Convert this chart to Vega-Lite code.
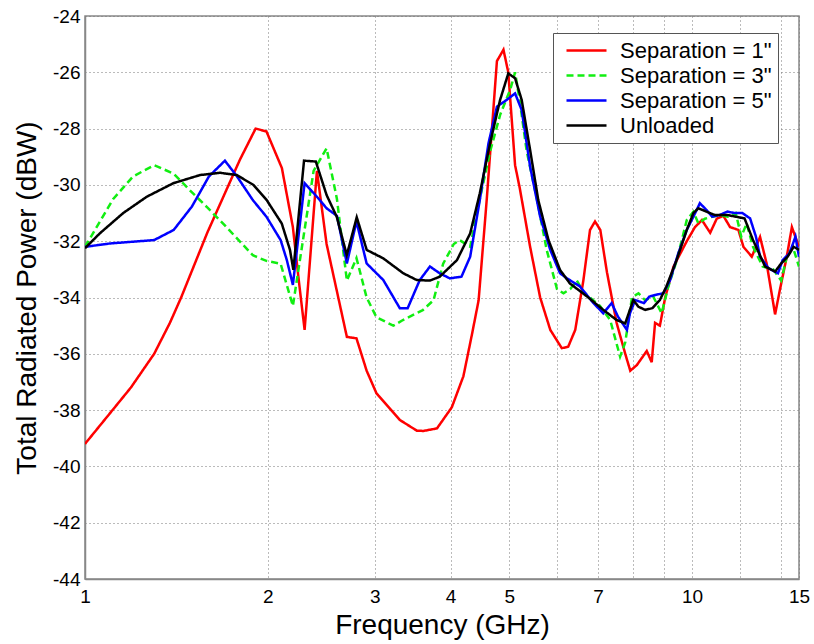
{
  "$schema": "https://vega.github.io/schema/vega-lite/v6.json",
  "width": 714,
  "height": 563,
  "autosize": {"type": "none"},
  "padding": {"left": 85, "top": 16, "right": 15, "bottom": 65},
  "background": "white",
  "config": {
    "font": "Liberation Sans",
    "view": {"stroke": "#888888", "strokeWidth": 1.5},
    "axis": {
      "gridDash": [1, 3],
      "gridColor": "#777777",
      "gridWidth": 1,
      "gridOpacity": 1,
      "domainColor": "#888888",
      "domainWidth": 1.5,
      "ticks": false,
      "labelColor": "black",
      "labelFontSize": 19,
      "labelFont": "Liberation Sans",
      "titleFont": "Liberation Sans",
      "titleFontSize": 28,
      "titleFontWeight": "normal",
      "titleColor": "black"
    },
    "legend": {
      "title": null,
      "orient": "none",
      "legendX": 468,
      "legendY": 17,
      "strokeColor": "#555555",
      "fillColor": "white",
      "padding": 6,
      "symbolOffset": 16,
      "symbolType": "M-2,0H2",
      "symbolSize": 400,
      "symbolStrokeWidth": 2.5,
      "labelFontSize": 22,
      "labelFont": "Liberation Sans",
      "labelColor": "black",
      "labelOffset": 22,
      "rowPadding": 2,
      "labelLimit": 300
    }
  },
  "data": {
    "values": [
      {"s": "Separation = 1\"", "f": 1.0, "v": -39.2},
      {"s": "Separation = 1\"", "f": 1.19, "v": -37.2},
      {"s": "Separation = 1\"", "f": 1.3, "v": -36.0},
      {"s": "Separation = 1\"", "f": 1.38, "v": -34.9},
      {"s": "Separation = 1\"", "f": 1.44, "v": -34.0},
      {"s": "Separation = 1\"", "f": 1.59, "v": -31.7},
      {"s": "Separation = 1\"", "f": 1.8, "v": -29.1},
      {"s": "Separation = 1\"", "f": 1.91, "v": -28.0},
      {"s": "Separation = 1\"", "f": 1.99, "v": -28.1},
      {"s": "Separation = 1\"", "f": 2.11, "v": -29.4},
      {"s": "Separation = 1\"", "f": 2.2, "v": -31.5},
      {"s": "Separation = 1\"", "f": 2.25, "v": -33.4},
      {"s": "Separation = 1\"", "f": 2.3, "v": -35.15},
      {"s": "Separation = 1\"", "f": 2.41, "v": -29.5},
      {"s": "Separation = 1\"", "f": 2.5, "v": -32.1},
      {"s": "Separation = 1\"", "f": 2.7, "v": -35.4},
      {"s": "Separation = 1\"", "f": 2.8, "v": -35.45},
      {"s": "Separation = 1\"", "f": 2.91, "v": -36.6},
      {"s": "Separation = 1\"", "f": 3.02, "v": -37.4},
      {"s": "Separation = 1\"", "f": 3.3, "v": -38.35},
      {"s": "Separation = 1\"", "f": 3.52, "v": -38.73},
      {"s": "Separation = 1\"", "f": 3.61, "v": -38.74},
      {"s": "Separation = 1\"", "f": 3.8, "v": -38.65},
      {"s": "Separation = 1\"", "f": 4.02, "v": -37.9},
      {"s": "Separation = 1\"", "f": 4.2, "v": -36.8},
      {"s": "Separation = 1\"", "f": 4.34, "v": -35.3},
      {"s": "Separation = 1\"", "f": 4.45, "v": -34.1},
      {"s": "Separation = 1\"", "f": 4.59, "v": -30.5},
      {"s": "Separation = 1\"", "f": 4.77, "v": -25.6},
      {"s": "Separation = 1\"", "f": 4.89, "v": -25.2},
      {"s": "Separation = 1\"", "f": 4.98, "v": -26.0},
      {"s": "Separation = 1\"", "f": 5.11, "v": -29.3},
      {"s": "Separation = 1\"", "f": 5.2, "v": -30.1},
      {"s": "Separation = 1\"", "f": 5.41, "v": -32.2},
      {"s": "Separation = 1\"", "f": 5.62, "v": -34.0},
      {"s": "Separation = 1\"", "f": 5.84, "v": -35.15},
      {"s": "Separation = 1\"", "f": 6.1, "v": -35.8},
      {"s": "Separation = 1\"", "f": 6.25, "v": -35.75},
      {"s": "Separation = 1\"", "f": 6.42, "v": -35.15},
      {"s": "Separation = 1\"", "f": 6.62, "v": -33.4},
      {"s": "Separation = 1\"", "f": 6.79, "v": -31.6},
      {"s": "Separation = 1\"", "f": 6.92, "v": -31.3},
      {"s": "Separation = 1\"", "f": 7.06, "v": -31.6},
      {"s": "Separation = 1\"", "f": 7.24, "v": -33.1},
      {"s": "Separation = 1\"", "f": 7.51, "v": -34.9},
      {"s": "Separation = 1\"", "f": 7.76, "v": -36.0},
      {"s": "Separation = 1\"", "f": 7.91, "v": -36.6},
      {"s": "Separation = 1\"", "f": 8.11, "v": -36.4},
      {"s": "Separation = 1\"", "f": 8.42, "v": -35.9},
      {"s": "Separation = 1\"", "f": 8.58, "v": -36.3},
      {"s": "Separation = 1\"", "f": 8.69, "v": -34.9},
      {"s": "Separation = 1\"", "f": 8.85, "v": -35.0},
      {"s": "Separation = 1\"", "f": 9.03, "v": -34.0},
      {"s": "Separation = 1\"", "f": 9.32, "v": -32.9},
      {"s": "Separation = 1\"", "f": 9.8, "v": -32.0},
      {"s": "Separation = 1\"", "f": 10.11, "v": -31.5},
      {"s": "Separation = 1\"", "f": 10.38, "v": -31.25},
      {"s": "Separation = 1\"", "f": 10.71, "v": -31.7},
      {"s": "Separation = 1\"", "f": 10.98, "v": -31.2},
      {"s": "Separation = 1\"", "f": 11.26, "v": -31.1},
      {"s": "Separation = 1\"", "f": 11.55, "v": -31.5},
      {"s": "Separation = 1\"", "f": 11.92, "v": -31.6},
      {"s": "Separation = 1\"", "f": 12.15, "v": -32.2},
      {"s": "Separation = 1\"", "f": 12.54, "v": -32.55},
      {"s": "Separation = 1\"", "f": 12.94, "v": -31.85},
      {"s": "Separation = 1\"", "f": 13.27, "v": -32.8},
      {"s": "Separation = 1\"", "f": 13.7, "v": -34.6},
      {"s": "Separation = 1\"", "f": 13.96, "v": -33.7},
      {"s": "Separation = 1\"", "f": 14.32, "v": -32.55},
      {"s": "Separation = 1\"", "f": 14.6, "v": -31.5},
      {"s": "Separation = 1\"", "f": 15.0, "v": -32.2},

      {"s": "Separation = 3\"", "f": 1.0, "v": -32.2},
      {"s": "Separation = 3\"", "f": 1.113, "v": -30.5},
      {"s": "Separation = 3\"", "f": 1.2, "v": -29.7},
      {"s": "Separation = 3\"", "f": 1.3, "v": -29.3},
      {"s": "Separation = 3\"", "f": 1.4, "v": -29.6},
      {"s": "Separation = 3\"", "f": 1.49, "v": -30.2},
      {"s": "Separation = 3\"", "f": 1.59, "v": -30.8},
      {"s": "Separation = 3\"", "f": 1.71, "v": -31.5},
      {"s": "Separation = 3\"", "f": 1.89, "v": -32.5},
      {"s": "Separation = 3\"", "f": 1.99, "v": -32.7},
      {"s": "Separation = 3\"", "f": 2.1, "v": -32.8},
      {"s": "Separation = 3\"", "f": 2.2, "v": -34.3},
      {"s": "Separation = 3\"", "f": 2.38, "v": -29.5},
      {"s": "Separation = 3\"", "f": 2.5, "v": -28.7},
      {"s": "Separation = 3\"", "f": 2.6, "v": -30.5},
      {"s": "Separation = 3\"", "f": 2.7, "v": -33.4},
      {"s": "Separation = 3\"", "f": 2.8, "v": -32.6},
      {"s": "Separation = 3\"", "f": 2.91, "v": -34.0},
      {"s": "Separation = 3\"", "f": 3.02, "v": -34.7},
      {"s": "Separation = 3\"", "f": 3.22, "v": -35.0},
      {"s": "Separation = 3\"", "f": 3.34, "v": -34.8},
      {"s": "Separation = 3\"", "f": 3.6, "v": -34.45},
      {"s": "Separation = 3\"", "f": 3.75, "v": -34.1},
      {"s": "Separation = 3\"", "f": 3.89, "v": -32.8},
      {"s": "Separation = 3\"", "f": 4.05, "v": -32.1},
      {"s": "Separation = 3\"", "f": 4.14, "v": -31.96},
      {"s": "Separation = 3\"", "f": 4.31, "v": -32.2},
      {"s": "Separation = 3\"", "f": 4.47, "v": -30.5},
      {"s": "Separation = 3\"", "f": 4.65, "v": -28.8},
      {"s": "Separation = 3\"", "f": 4.83, "v": -27.5},
      {"s": "Separation = 3\"", "f": 5.02, "v": -26.6},
      {"s": "Separation = 3\"", "f": 5.11, "v": -26.0},
      {"s": "Separation = 3\"", "f": 5.2, "v": -27.0},
      {"s": "Separation = 3\"", "f": 5.34, "v": -28.8},
      {"s": "Separation = 3\"", "f": 5.55, "v": -30.5},
      {"s": "Separation = 3\"", "f": 5.76, "v": -32.3},
      {"s": "Separation = 3\"", "f": 5.99, "v": -33.7},
      {"s": "Separation = 3\"", "f": 6.14, "v": -33.85},
      {"s": "Separation = 3\"", "f": 6.3, "v": -33.7},
      {"s": "Separation = 3\"", "f": 6.46, "v": -33.4},
      {"s": "Separation = 3\"", "f": 6.62, "v": -33.8},
      {"s": "Separation = 3\"", "f": 7.05, "v": -34.3},
      {"s": "Separation = 3\"", "f": 7.33, "v": -34.8},
      {"s": "Separation = 3\"", "f": 7.61, "v": -36.1},
      {"s": "Separation = 3\"", "f": 7.76, "v": -35.6},
      {"s": "Separation = 3\"", "f": 7.96, "v": -34.0},
      {"s": "Separation = 3\"", "f": 8.16, "v": -33.85},
      {"s": "Separation = 3\"", "f": 8.37, "v": -34.1},
      {"s": "Separation = 3\"", "f": 8.63, "v": -33.97},
      {"s": "Separation = 3\"", "f": 8.91, "v": -34.56},
      {"s": "Separation = 3\"", "f": 9.14, "v": -33.6},
      {"s": "Separation = 3\"", "f": 9.43, "v": -32.7},
      {"s": "Separation = 3\"", "f": 9.8, "v": -31.25},
      {"s": "Separation = 3\"", "f": 10.05, "v": -30.95},
      {"s": "Separation = 3\"", "f": 10.24, "v": -31.37},
      {"s": "Separation = 3\"", "f": 10.5, "v": -31.2},
      {"s": "Separation = 3\"", "f": 10.8, "v": -31.13},
      {"s": "Separation = 3\"", "f": 11.1, "v": -31.07},
      {"s": "Separation = 3\"", "f": 11.45, "v": -31.13},
      {"s": "Separation = 3\"", "f": 11.8, "v": -31.0},
      {"s": "Separation = 3\"", "f": 12.05, "v": -31.84},
      {"s": "Separation = 3\"", "f": 12.3, "v": -31.37},
      {"s": "Separation = 3\"", "f": 12.6, "v": -32.2},
      {"s": "Separation = 3\"", "f": 13.07, "v": -32.9},
      {"s": "Separation = 3\"", "f": 13.6, "v": -33.0},
      {"s": "Separation = 3\"", "f": 14.02, "v": -33.4},
      {"s": "Separation = 3\"", "f": 14.32, "v": -32.55},
      {"s": "Separation = 3\"", "f": 14.65, "v": -32.2},
      {"s": "Separation = 3\"", "f": 15.0, "v": -32.9},

      {"s": "Separation = 5\"", "f": 1.0, "v": -32.2},
      {"s": "Separation = 5\"", "f": 1.1, "v": -32.08},
      {"s": "Separation = 5\"", "f": 1.3, "v": -31.96},
      {"s": "Separation = 5\"", "f": 1.4, "v": -31.6},
      {"s": "Separation = 5\"", "f": 1.5, "v": -30.77},
      {"s": "Separation = 5\"", "f": 1.6, "v": -29.7},
      {"s": "Separation = 5\"", "f": 1.7, "v": -29.14},
      {"s": "Separation = 5\"", "f": 1.78, "v": -29.7},
      {"s": "Separation = 5\"", "f": 1.89, "v": -30.54},
      {"s": "Separation = 5\"", "f": 1.99, "v": -31.13},
      {"s": "Separation = 5\"", "f": 2.1, "v": -31.96},
      {"s": "Separation = 5\"", "f": 2.15, "v": -32.67},
      {"s": "Separation = 5\"", "f": 2.2, "v": -33.55},
      {"s": "Separation = 5\"", "f": 2.3, "v": -29.94},
      {"s": "Separation = 5\"", "f": 2.41, "v": -30.42},
      {"s": "Separation = 5\"", "f": 2.5, "v": -30.83},
      {"s": "Separation = 5\"", "f": 2.6, "v": -31.1},
      {"s": "Separation = 5\"", "f": 2.7, "v": -32.79},
      {"s": "Separation = 5\"", "f": 2.8, "v": -31.3},
      {"s": "Separation = 5\"", "f": 2.91, "v": -32.79},
      {"s": "Separation = 5\"", "f": 3.1, "v": -33.38},
      {"s": "Separation = 5\"", "f": 3.3, "v": -34.38},
      {"s": "Separation = 5\"", "f": 3.4, "v": -34.38},
      {"s": "Separation = 5\"", "f": 3.56, "v": -33.38},
      {"s": "Separation = 5\"", "f": 3.7, "v": -32.9},
      {"s": "Separation = 5\"", "f": 3.84, "v": -33.14},
      {"s": "Separation = 5\"", "f": 3.99, "v": -33.32},
      {"s": "Separation = 5\"", "f": 4.17, "v": -33.26},
      {"s": "Separation = 5\"", "f": 4.31, "v": -32.55},
      {"s": "Separation = 5\"", "f": 4.47, "v": -30.54},
      {"s": "Separation = 5\"", "f": 4.62, "v": -28.52},
      {"s": "Separation = 5\"", "f": 4.77, "v": -27.22},
      {"s": "Separation = 5\"", "f": 4.95, "v": -26.98},
      {"s": "Separation = 5\"", "f": 5.11, "v": -26.75},
      {"s": "Separation = 5\"", "f": 5.24, "v": -27.34},
      {"s": "Separation = 5\"", "f": 5.41, "v": -29.35},
      {"s": "Separation = 5\"", "f": 5.62, "v": -31.13},
      {"s": "Separation = 5\"", "f": 5.84, "v": -32.31},
      {"s": "Separation = 5\"", "f": 6.06, "v": -33.14},
      {"s": "Separation = 5\"", "f": 6.22, "v": -33.32},
      {"s": "Separation = 5\"", "f": 6.53, "v": -33.6},
      {"s": "Separation = 5\"", "f": 6.88, "v": -34.2},
      {"s": "Separation = 5\"", "f": 7.14, "v": -34.56},
      {"s": "Separation = 5\"", "f": 7.37, "v": -34.2},
      {"s": "Separation = 5\"", "f": 7.55, "v": -34.68},
      {"s": "Separation = 5\"", "f": 7.81, "v": -35.15},
      {"s": "Separation = 5\"", "f": 7.9, "v": -34.56},
      {"s": "Separation = 5\"", "f": 8.06, "v": -34.09},
      {"s": "Separation = 5\"", "f": 8.33, "v": -34.2},
      {"s": "Separation = 5\"", "f": 8.5, "v": -33.97},
      {"s": "Separation = 5\"", "f": 8.69, "v": -33.91},
      {"s": "Separation = 5\"", "f": 8.97, "v": -33.85},
      {"s": "Separation = 5\"", "f": 9.2, "v": -33.38},
      {"s": "Separation = 5\"", "f": 9.49, "v": -32.43},
      {"s": "Separation = 5\"", "f": 9.8, "v": -31.6},
      {"s": "Separation = 5\"", "f": 10.05, "v": -31.13},
      {"s": "Separation = 5\"", "f": 10.3, "v": -30.65},
      {"s": "Separation = 5\"", "f": 10.56, "v": -30.89},
      {"s": "Separation = 5\"", "f": 10.8, "v": -31.13},
      {"s": "Separation = 5\"", "f": 11.1, "v": -31.07},
      {"s": "Separation = 5\"", "f": 11.43, "v": -30.95},
      {"s": "Separation = 5\"", "f": 11.76, "v": -31.0},
      {"s": "Separation = 5\"", "f": 12.1, "v": -31.0},
      {"s": "Separation = 5\"", "f": 12.46, "v": -31.19},
      {"s": "Separation = 5\"", "f": 12.74, "v": -31.84},
      {"s": "Separation = 5\"", "f": 12.94, "v": -32.55},
      {"s": "Separation = 5\"", "f": 13.36, "v": -32.96},
      {"s": "Separation = 5\"", "f": 13.85, "v": -33.14},
      {"s": "Separation = 5\"", "f": 14.1, "v": -32.67},
      {"s": "Separation = 5\"", "f": 14.47, "v": -32.43},
      {"s": "Separation = 5\"", "f": 14.8, "v": -31.84},
      {"s": "Separation = 5\"", "f": 15.0, "v": -32.55},

      {"s": "Unloaded", "f": 1.0, "v": -32.25},
      {"s": "Unloaded", "f": 1.058, "v": -31.72},
      {"s": "Unloaded", "f": 1.156, "v": -31.0},
      {"s": "Unloaded", "f": 1.264, "v": -30.42},
      {"s": "Unloaded", "f": 1.398, "v": -29.94},
      {"s": "Unloaded", "f": 1.547, "v": -29.65},
      {"s": "Unloaded", "f": 1.669, "v": -29.57},
      {"s": "Unloaded", "f": 1.778, "v": -29.65},
      {"s": "Unloaded", "f": 1.894, "v": -30.0},
      {"s": "Unloaded", "f": 1.992, "v": -30.54},
      {"s": "Unloaded", "f": 2.109, "v": -31.37},
      {"s": "Unloaded", "f": 2.176, "v": -32.31},
      {"s": "Unloaded", "f": 2.204, "v": -33.02},
      {"s": "Unloaded", "f": 2.295, "v": -29.14},
      {"s": "Unloaded", "f": 2.4, "v": -29.17},
      {"s": "Unloaded", "f": 2.5, "v": -30.36},
      {"s": "Unloaded", "f": 2.598, "v": -31.13},
      {"s": "Unloaded", "f": 2.699, "v": -32.49},
      {"s": "Unloaded", "f": 2.803, "v": -31.15},
      {"s": "Unloaded", "f": 2.911, "v": -32.31},
      {"s": "Unloaded", "f": 3.1, "v": -32.61},
      {"s": "Unloaded", "f": 3.344, "v": -33.14},
      {"s": "Unloaded", "f": 3.52, "v": -33.38},
      {"s": "Unloaded", "f": 3.7, "v": -33.4},
      {"s": "Unloaded", "f": 3.84, "v": -33.26},
      {"s": "Unloaded", "f": 4.1, "v": -32.67},
      {"s": "Unloaded", "f": 4.31, "v": -31.72},
      {"s": "Unloaded", "f": 4.47, "v": -30.3},
      {"s": "Unloaded", "f": 4.648, "v": -28.52},
      {"s": "Unloaded", "f": 4.828, "v": -26.98},
      {"s": "Unloaded", "f": 4.98, "v": -26.04},
      {"s": "Unloaded", "f": 5.11, "v": -26.21},
      {"s": "Unloaded", "f": 5.24, "v": -26.98},
      {"s": "Unloaded", "f": 5.41, "v": -28.76},
      {"s": "Unloaded", "f": 5.58, "v": -30.54},
      {"s": "Unloaded", "f": 5.8, "v": -31.96},
      {"s": "Unloaded", "f": 6.06, "v": -33.02},
      {"s": "Unloaded", "f": 6.29, "v": -33.5},
      {"s": "Unloaded", "f": 6.72, "v": -33.97},
      {"s": "Unloaded", "f": 7.14, "v": -34.44},
      {"s": "Unloaded", "f": 7.51, "v": -34.8},
      {"s": "Unloaded", "f": 7.76, "v": -34.92},
      {"s": "Unloaded", "f": 8.0, "v": -34.09},
      {"s": "Unloaded", "f": 8.16, "v": -34.33},
      {"s": "Unloaded", "f": 8.37, "v": -34.44},
      {"s": "Unloaded", "f": 8.6, "v": -34.38},
      {"s": "Unloaded", "f": 8.85, "v": -34.09},
      {"s": "Unloaded", "f": 9.07, "v": -33.61},
      {"s": "Unloaded", "f": 9.43, "v": -32.67},
      {"s": "Unloaded", "f": 9.8, "v": -31.6},
      {"s": "Unloaded", "f": 10.05, "v": -31.0},
      {"s": "Unloaded", "f": 10.24, "v": -30.83},
      {"s": "Unloaded", "f": 10.56, "v": -30.95},
      {"s": "Unloaded", "f": 10.9, "v": -31.07},
      {"s": "Unloaded", "f": 11.43, "v": -31.07},
      {"s": "Unloaded", "f": 11.8, "v": -31.13},
      {"s": "Unloaded", "f": 12.2, "v": -31.19},
      {"s": "Unloaded", "f": 12.6, "v": -31.96},
      {"s": "Unloaded", "f": 13.19, "v": -32.9},
      {"s": "Unloaded", "f": 13.7, "v": -33.08},
      {"s": "Unloaded", "f": 14.02, "v": -32.79},
      {"s": "Unloaded", "f": 14.37, "v": -32.55},
      {"s": "Unloaded", "f": 14.7, "v": -32.2},
      {"s": "Unloaded", "f": 15.0, "v": -32.31}
    ]
  },
  "mark": {"type": "line", "strokeWidth": 2.5, "clip": true},
  "encoding": {
    "x": {
      "field": "f",
      "type": "quantitative",
      "title": "Frequency (GHz)",
      "scale": {"type": "log", "domain": [1, 15], "nice": false},
      "axis": {
        "values": [1, 2, 3, 4, 5, 6, 7, 8, 9, 10, 12, 14, 15],
        "labelExpr": "indexof([1, 2, 3, 4, 5, 7, 10, 15], datum.value) >= 0 ? '' + datum.value : ''",
        "labelPadding": 8,
        "titlePadding": 5,
        "labelFlush": false,
        "labelOverlap": false
      }
    },
    "y": {
      "field": "v",
      "type": "quantitative",
      "title": "Total Radiated Power (dBW)",
      "scale": {"domain": [-44, -24], "nice": false},
      "axis": {
        "values": [-44, -42, -40, -38, -36, -34, -32, -30, -28, -26, -24],
        "labelExpr": "'' + datum.value",
        "labelPadding": 5,
        "titlePadding": 11,
        "labelFlush": false,
        "labelOverlap": false
      }
    },
    "color": {
      "field": "s",
      "type": "nominal",
      "scale": {
        "domain": ["Separation = 1\"", "Separation = 3\"", "Separation = 5\"", "Unloaded"],
        "range": ["#ff0000", "#11ee11", "#0000ff", "#000000"]
      }
    },
    "strokeDash": {
      "field": "s",
      "type": "nominal",
      "scale": {
        "domain": ["Separation = 1\"", "Separation = 3\"", "Separation = 5\"", "Unloaded"],
        "range": [[1, 0], [7, 4], [1, 0], [1, 0]]
      }
    }
  }
}
